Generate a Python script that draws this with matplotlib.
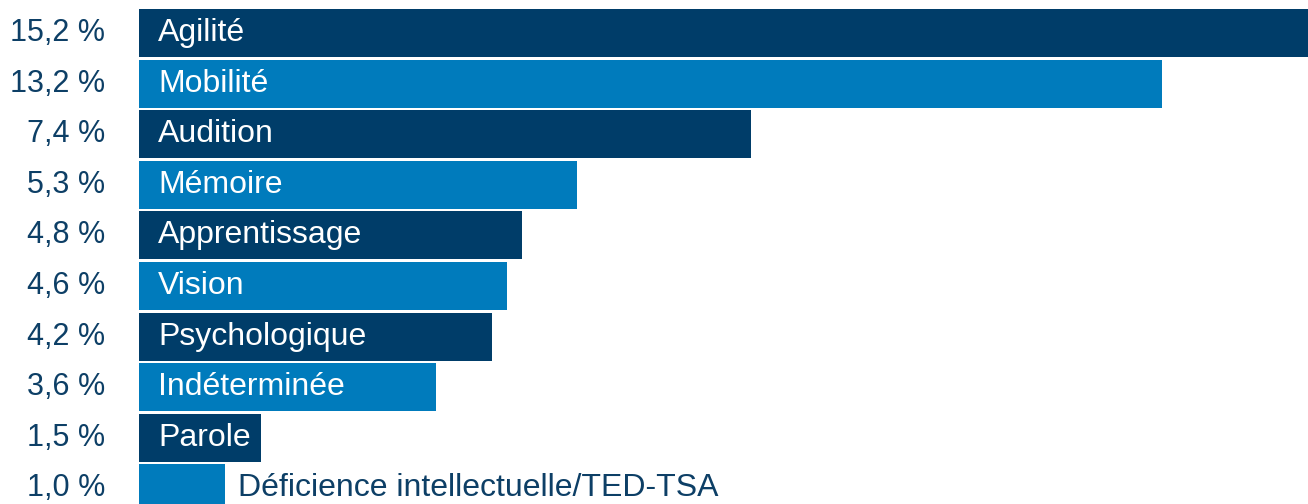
import numpy as np
import matplotlib.pyplot as plt

plt.rcParams['font.family'] = ['Liberation Sans', 'DejaVu Sans']

# données
categories = ['Agilité', 'Mobilité', 'Audition', 'Mémoire', 'Apprentissage',
              'Vision', 'Psychologique', 'Indéterminée', 'Parole',
              'Déficience intellectuelle/TED-TSA']
# longueurs des barres telles que dessinées (en %)
longueurs = [15.2, 13.2, 7.9, 5.65, 4.94, 4.75, 4.55, 3.83, 1.58, 1.11]
etiquettes = ['15,2 %', '13,2 %', '7,4 %', '5,3 %', '4,8 %',
              '4,6 %', '4,2 %', '3,6 %', '1,5 %', '1,0 %']

fonce = '#003d69'
clair = '#007bbc'
texte = '#0d3f66'

W, H = 1308, 504
fig = plt.figure(figsize=(W / 100, H / 100), dpi=100)
ax = fig.add_axes([139 / W, 1 - 513.7 / H, (1308 - 139) / W, 506 / H])

y = np.arange(len(longueurs))
couleurs = [fonce if i % 2 == 0 else clair for i in range(len(longueurs))]
ax.barh(y, longueurs, height=0.95, color=couleurs)

ax.set_xlim(0, 15.08)
ax.set_ylim(len(longueurs) - 0.5, -0.5)
ax.axis('off')

for i, (v, cat, lab) in enumerate(zip(longueurs, categories, etiquettes)):
    # valeur à gauche
    ax.annotate(lab, (0, i), xytext=(-34, 0), textcoords='offset pixels',
                ha='right', va='center', fontsize=22, color=texte)
    # catégorie dans la barre, ou à côté si trop courte
    if v > 1.3:
        ax.annotate(cat, (0, i), xytext=(19, 0), textcoords='offset pixels',
                    ha='left', va='center', fontsize=23, color='white')
    else:
        ax.annotate(cat, (v, i), xytext=(13, 0), textcoords='offset pixels',
                    ha='left', va='center', fontsize=23, color=texte)

fig.savefig('out.png', dpi=100)
